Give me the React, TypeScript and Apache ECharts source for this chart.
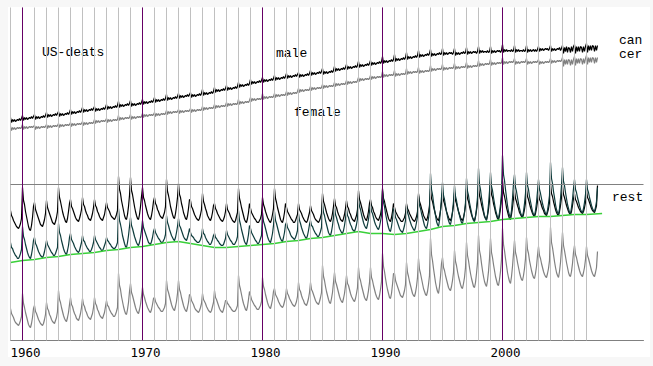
import React, { useEffect, useRef } from "react";
import * as echarts from "echarts";

// Monthly values (one row per year, Jan..Dec), first row = 1959. Units: arbitrary (no y labels in original).
const firstYear = 1959;
const decadeLabels = [1960, 1970, 1980, 1990, 2000];
const yearLines = [1959,1960,1961,1962,1963,1964,1965,1966,1967,1968,1969,1970,1971,1972,1973,1974,1975,1976,1977,1978,1979,1980,1981,1982,1983,1984,1985,1986,1987,1988,1989,1990,1991,1992,1993,1994,1995,1996,1997,1998,1999,2000,2001,2002,2003,2004,2005,2006,2007];
const restLevel = 156;

const cancerMale = [
[223,218,221,219,221,219,220,221,220,222,220,222],
[225,220,223,221,223,221,222,223,222,224,222,224],
[226,221,224,222,224,222,223,224,223,225,223,225],
[228,223,226,224,226,224,225,226,225,227,225,227],
[229,224,227,225,227,225,226,227,226,228,226,228],
[231,226,229,227,229,227,228,229,228,230,228,230],
[233,228,231,229,231,229,230,231,230,232,230,232],
[234,229,232,230,232,230,231,232,231,233,231,233],
[236,231,234,232,234,232,233,234,233,235,233,235],
[239,233,236,234,236,234,235,236,235,237,235,237],
[240,234,237,235,237,235,236,237,236,238,236,238],
[241,236,239,237,239,237,238,239,238,240,238,240],
[243,238,241,239,241,239,240,241,240,242,240,242],
[246,240,243,241,243,241,242,243,242,244,242,244],
[247,242,245,243,245,243,244,245,244,246,244,246],
[248,243,246,244,246,244,245,246,245,247,245,247],
[251,245,248,246,248,246,247,248,247,249,247,249],
[253,248,251,249,251,249,250,251,250,252,250,252],
[255,250,253,251,253,251,252,253,252,254,252,254],
[258,253,256,254,256,254,255,256,255,257,255,257],
[261,256,259,257,259,257,258,259,258,260,258,260],
[263,258,261,259,261,259,260,261,260,262,260,262],
[265,260,263,261,263,261,262,263,262,264,262,264],
[267,262,265,263,265,263,264,265,264,266,264,266],
[268,263,266,264,266,264,265,266,265,267,265,267],
[270,265,268,266,268,266,267,268,267,269,267,269],
[272,266,269,267,269,267,268,269,268,270,268,270],
[274,269,272,270,272,270,271,272,271,273,271,273],
[276,271,274,272,274,272,273,274,273,275,273,275],
[279,273,276,274,276,274,275,276,275,277,275,277],
[280,275,278,276,278,276,277,278,277,279,277,279],
[284,277,280,278,280,278,279,280,279,281,279,281],
[286,279,282,280,282,280,281,282,281,283,281,283],
[288,281,284,282,284,282,283,284,283,285,283,285],
[290,283,286,284,286,284,285,286,285,287,285,287],
[291,284,287,285,287,285,286,287,286,288,286,287],
[292,285,288,286,288,286,287,288,287,288,286,288],
[292,285,288,286,288,286,287,288,287,289,287,288],
[293,286,289,287,289,287,288,289,288,289,287,289],
[294,287,290,288,290,288,289,289,288,290,288,289],
[294,287,290,288,290,288,289,290,289,290,288,290],
[296,288,291,289,291,289,290,290,289,291,289,290],
[295,288,291,289,291,289,290,290,289,291,289,290],
[295,288,291,289,291,289,290,291,289,291,289,291],
[294,289,292,290,292,290,291,292,291,292,290,292],
[295,289,292,290,292,290,291,292,291,293,290,292],
[295,287,293,289,294,288,293,292,288,294,289,294],
[296,287,294,289,294,289,294,293,288,294,289,294],
[297,288,295,290,295,290,295,294,289,295,290,295],
];

const cancerFemale = [
[214,210,213,211,213,211,212,213,212,213,212,213],
[216,211,214,212,214,212,213,214,213,214,213,214],
[215,211,214,212,214,212,213,214,213,214,213,214],
[216,212,215,213,215,213,214,215,214,215,214,215],
[217,213,216,214,216,214,215,216,215,216,215,216],
[218,214,217,215,217,215,216,217,216,217,216,217],
[219,215,218,216,218,216,217,218,217,218,217,218],
[221,217,220,218,220,218,219,220,219,220,219,220],
[222,218,221,219,221,219,220,221,220,221,220,221],
[225,220,223,221,223,221,222,223,222,223,222,223],
[226,221,224,222,224,222,223,224,223,224,223,224],
[227,223,226,224,226,224,225,226,225,226,225,226],
[228,224,227,225,227,225,226,227,226,227,226,227],
[230,226,229,227,229,227,228,229,228,229,228,229],
[231,227,230,228,230,228,229,230,229,230,229,230],
[232,228,231,229,231,229,230,231,230,231,230,231],
[234,230,233,231,233,231,232,233,232,233,232,233],
[236,232,235,233,235,233,234,235,234,235,234,235],
[238,234,237,235,237,235,236,237,236,237,236,237],
[241,236,239,237,239,237,238,239,238,239,238,240],
[243,239,242,240,242,240,241,242,241,242,241,242],
[247,241,244,242,244,242,243,244,243,244,243,244],
[247,243,246,244,246,244,245,246,245,246,245,246],
[249,245,248,246,248,246,247,248,247,248,247,249],
[252,248,251,249,251,249,250,251,250,251,250,251],
[254,250,253,251,253,251,252,253,252,253,252,253],
[256,252,255,253,255,253,254,255,254,255,254,255],
[258,254,257,255,257,255,256,257,256,257,256,257],
[260,256,259,257,259,257,258,259,258,259,258,260],
[263,259,262,260,262,260,261,262,261,262,261,262],
[265,261,264,262,264,262,263,264,263,264,263,264],
[269,263,266,264,266,264,265,266,265,266,265,266],
[270,264,267,265,267,265,266,267,266,267,266,267],
[272,266,269,267,269,267,268,269,268,269,268,269],
[273,267,270,268,270,268,269,270,269,270,269,270],
[275,269,272,270,272,270,271,272,271,272,271,272],
[276,270,273,271,273,271,272,273,272,273,272,273],
[277,271,274,272,274,272,273,274,273,274,273,274],
[278,272,275,273,275,273,274,275,274,275,274,275],
[280,274,277,275,277,275,276,277,276,277,276,277],
[281,275,278,276,278,276,277,278,277,278,277,278],
[283,276,279,277,279,277,278,279,278,279,278,279],
[282,276,279,277,279,277,278,279,278,279,278,279],
[282,276,279,277,279,277,278,279,278,279,278,279],
[281,276,279,277,279,277,278,279,278,279,278,279],
[282,277,280,278,280,278,279,280,279,280,279,280],
[283,274,281,276,281,276,281,280,275,281,276,281],
[284,275,282,277,282,277,282,281,276,282,277,282],
[285,276,283,278,283,278,283,282,277,283,278,283],
];

const restBlack = [
[130,125,123,120,118,116,114,113,112,114,117,122],
[153,140,136,129,124,119,114,111,110,115,123,134],
[138,131,128,125,122,119,116,115,114,117,121,127],
[140,133,130,127,124,121,118,117,116,119,123,129],
[153,143,139,134,129,125,122,119,118,122,129,137],
[141,134,132,129,126,123,121,120,119,122,126,131],
[143,136,134,130,127,125,122,121,120,123,127,133],
[141,135,133,129,127,124,122,121,120,123,126,132],
[138,133,131,129,126,124,123,122,121,123,126,130],
[164,151,147,140,135,130,125,122,121,126,134,145],
[163,150,146,140,134,129,125,122,121,126,134,144],
[153,143,140,135,131,127,124,122,121,125,131,139],
[143,137,135,131,129,126,124,123,122,125,128,134],
[161,149,145,140,134,130,126,123,122,127,134,143],
[157,146,143,137,133,128,125,122,121,125,132,141],
[140,134,132,129,126,124,122,121,120,122,126,131],
[147,139,136,132,129,125,123,121,120,123,128,135],
[137,132,130,127,125,123,121,120,119,121,124,129],
[137,131,129,127,124,122,120,119,118,120,124,128],
[152,142,138,133,129,125,121,119,118,122,128,137],
[132,128,126,124,122,121,119,118,118,120,122,126],
[143,136,133,129,126,123,121,119,118,121,126,132],
[152,142,138,133,129,125,121,119,118,122,128,137],
[133,129,127,125,123,121,120,118,118,120,123,126],
[137,131,129,127,124,122,120,119,118,120,124,128],
[135,130,128,126,123,121,120,119,118,120,123,127],
[147,139,136,132,128,125,122,120,119,122,127,134],
[142,135,133,129,126,124,121,120,119,122,126,132],
[140,134,132,128,126,123,121,120,119,122,125,131],
[150,141,138,134,130,126,123,121,120,124,129,137],
[141,135,133,129,127,124,122,121,120,123,126,132],
[152,142,139,134,130,126,122,120,119,123,129,137],
[133,129,127,125,123,122,120,119,119,121,123,127],
[137,132,130,127,125,123,121,120,119,121,124,129],
[147,139,136,132,129,125,123,121,120,123,128,135],
[152,142,139,134,130,126,123,121,120,124,130,138],
[148,140,137,133,129,126,123,121,120,123,128,135],
[148,140,137,133,129,126,123,121,120,123,128,135],
[152,142,139,134,130,126,123,121,120,124,130,138],
[155,145,141,136,132,128,124,122,121,125,131,140],
[157,146,143,137,133,128,125,122,121,125,132,141],
[160,148,144,139,133,129,125,122,121,126,133,142],
[150,142,139,135,132,128,126,124,123,126,131,138],
[152,144,141,137,133,130,127,125,124,127,132,139],
[148,141,139,135,132,130,127,126,125,128,132,138],
[157,147,144,139,135,131,128,126,125,129,135,143],
[155,146,143,139,135,132,129,127,126,129,135,142],
[147,141,139,136,133,131,129,128,127,129,133,138],
[150,143,141,138,135,132,130,129,128,131,135,155],
];

const restTeal = [
[98,93,92,89,87,85,84,82,82,84,87,91],
[114,104,101,96,92,88,85,83,82,86,92,100],
[103,97,95,92,89,87,85,84,83,85,89,94],
[100,96,94,92,90,88,87,85,85,87,90,93],
[117,108,105,100,96,92,89,87,86,90,95,103],
[107,101,99,97,94,92,90,89,88,90,94,98],
[105,100,99,96,94,92,91,89,89,91,94,98],
[105,101,99,97,95,93,92,90,90,92,95,98],
[103,100,99,97,96,94,93,92,92,93,95,98],
[132,120,116,111,105,101,97,94,93,98,105,114],
[123,115,112,108,104,101,98,96,95,98,103,110],
[120,113,110,107,104,101,98,97,96,99,103,109],
[112,108,106,104,102,101,99,98,98,100,102,106],
[125,118,115,111,108,105,103,101,100,103,108,114],
[122,115,113,110,107,104,102,101,100,103,107,112],
[108,105,104,103,101,100,99,98,98,99,101,104],
[112,107,106,103,101,99,98,96,96,98,101,105],
[107,103,102,100,99,97,96,95,95,96,99,102],
[110,106,104,102,100,99,97,96,96,98,100,104],
[130,120,116,111,107,103,99,97,96,100,106,115],
[112,108,106,104,102,100,99,97,97,99,102,105],
[128,119,116,112,108,104,101,99,98,102,107,115],
[129,120,117,113,109,105,102,100,99,103,108,116],
[118,113,111,109,106,104,103,102,101,103,106,110],
[127,120,117,113,110,107,105,103,102,105,110,116],
[120,115,114,111,109,107,106,104,104,106,109,113],
[138,128,125,120,116,112,108,106,105,109,115,123],
[134,126,123,119,116,112,110,108,107,110,115,122],
[132,125,123,119,116,114,111,110,109,112,116,122],
[143,134,131,126,122,118,115,113,112,116,121,129],
[137,129,127,123,119,116,114,112,111,114,119,125],
[150,138,134,127,122,117,113,110,109,114,121,132],
[130,123,121,118,115,112,110,109,108,111,115,120],
[135,128,125,121,118,115,113,111,110,113,118,124],
[145,135,132,127,123,119,115,113,112,116,122,130],
[167,151,146,138,131,125,119,116,114,120,130,143],
[158,145,141,135,129,124,120,117,116,121,129,139],
[155,144,140,134,129,125,121,118,117,122,128,138],
[162,149,145,138,133,128,123,120,119,124,132,143],
[172,156,151,143,137,130,125,122,120,126,136,149],
[168,154,150,143,137,131,127,123,122,128,136,147],
[185,166,160,151,143,135,129,125,123,130,142,157],
[166,153,149,143,137,132,128,125,124,129,137,147],
[168,155,151,144,139,134,129,126,125,130,138,149],
[161,151,147,142,137,133,130,127,126,130,137,145],
[178,162,157,149,143,136,131,128,126,132,142,155],
[173,159,155,148,142,136,132,128,127,133,141,152],
[161,151,148,143,139,135,131,129,128,132,138,146],
[161,151,148,143,139,135,132,130,129,133,139,153],
];

const restGray = [
[32,27,25,23,20,18,17,16,15,17,20,24],
[47,37,33,28,24,20,16,14,13,17,23,32],
[35,29,27,24,21,19,17,16,15,17,21,26],
[38,32,30,26,24,21,19,18,17,20,23,29],
[50,41,38,33,29,25,22,20,19,23,28,36],
[43,36,34,30,27,25,22,21,20,23,27,33],
[42,36,34,30,28,25,23,22,21,24,27,33],
[43,37,35,31,29,26,24,23,22,25,28,34],
[40,35,34,31,29,27,26,24,24,26,29,33],
[67,55,51,44,39,34,30,27,26,31,38,49],
[57,48,45,41,37,33,30,28,27,31,36,44],
[53,46,43,39,36,33,31,29,28,31,36,42],
[43,39,37,35,33,32,30,29,29,31,33,37],
[60,51,48,44,40,36,33,31,30,34,39,47],
[60,51,48,43,39,35,32,30,29,33,38,46],
[45,40,38,36,33,31,30,29,28,30,33,37],
[47,41,39,37,34,32,30,29,28,30,34,38],
[50,43,41,38,35,32,30,29,28,31,35,40],
[40,37,36,34,33,31,30,29,29,30,32,35],
[65,55,51,46,41,37,34,31,30,34,41,49],
[45,41,39,37,35,34,32,31,31,33,35,39],
[63,54,51,46,42,38,35,33,32,36,41,49],
[52,46,44,42,39,37,35,34,33,35,39,43],
[52,47,45,42,40,38,36,35,34,36,39,44],
[58,51,49,45,42,40,37,36,35,38,42,48],
[58,51,49,46,43,40,38,37,36,39,43,48],
[75,64,60,54,49,45,41,38,37,42,48,58],
[68,59,56,52,48,44,41,39,38,42,47,55],
[65,57,55,51,47,44,42,40,39,42,47,53],
[73,63,60,55,51,47,43,41,40,44,50,58],
[73,63,60,55,51,47,44,42,41,45,51,59],
[87,74,69,62,56,51,47,43,42,47,56,67],
[67,60,57,54,51,48,45,44,43,46,50,56],
[78,68,64,59,55,51,47,45,44,48,54,63],
[82,71,67,62,57,52,49,46,45,49,56,65],
[102,86,80,72,65,58,53,49,47,54,64,77],
[83,73,70,65,61,57,53,51,50,54,60,68],
[90,79,75,69,64,60,56,53,52,57,63,73],
[98,85,80,73,67,62,58,54,53,58,67,78],
[105,90,85,77,70,64,59,56,54,60,69,82],
[102,88,83,76,70,64,60,56,55,61,69,81],
[112,96,90,82,75,68,63,59,57,64,74,87],
[100,88,84,78,73,68,64,61,60,65,72,82],
[103,91,87,80,75,70,66,63,62,67,74,85],
[94,85,82,77,73,69,66,64,63,67,72,80],
[113,98,93,86,79,73,68,65,63,69,78,91],
[108,95,90,84,78,73,68,65,64,69,77,88],
[95,86,83,78,74,70,67,65,64,68,73,81],
[94,85,82,78,74,70,67,65,64,68,73,89],
];

const trendYears = [1959,1960,1961,1962,1963,1964,1965,1966,1967,1968,1969,1970,1971,1972,1973,1974,1975,1976,1977,1978,1979,1980,1981,1982,1983,1984,1985,1986,1987,1988,1989,1990,1991,1992,1993,1994,1995,1996,1997,1998,1999,2000,2001,2002,2003,2004,2005,2006,2007,2008.3];
const trendValues = [78,80,81,83,84,86,87,88,90,91,93,94,96,98,99,97,95,93,93,94,95,96,97,99,100,102,103,105,107,109,107,107,106,107,109,111,114,115,117,118,119,121,122,123,124,124,125,126,126,127];

function monthly(rows: number[][]): number[][] {
  const out: number[][] = [];
  rows.forEach((row, i) => {
    row.forEach((v, m) => {
      out.push([firstYear + i + m / 12, v]);
    });
  });
  return out;
}

const labelFont = "'Liberation Mono', 'Courier New', monospace";

export default function App() {
  const ref = useRef<HTMLDivElement>(null);
  useEffect(() => {
    if (!ref.current) return;
    const chart = echarts.init(ref.current, null, { renderer: "svg" });
    const lineBase = (name: string, data: number[][], color: string, z = 3, width = 1.2) => ({
      name,
      type: "line",
      data,
      showSymbol: false,
      symbol: "none",
      z,
      lineStyle: { color, width },
      itemStyle: { color },
      silent: true,
    });
    const txt = (text: string, left: number, top: number) => ({
      type: "text",
      left,
      top,
      style: { text, fontFamily: labelFont, fontSize: 13, lineHeight: 13, fill: "#000" },
    });
    chart.setOption({
      animation: false,
      backgroundColor: "transparent",
      grid: { left: 10.5, right: 9.5, top: 7.5, bottom: 25.5 },
      xAxis: {
        type: "value",
        min: 1959,
        max: 2011.75,
        interval: 1,
        axisLine: { show: true, lineStyle: { color: "#808080", width: 1 } },
        axisTick: { show: false },
        splitLine: { show: false },
        axisLabel: {
          margin: 5,
          fontFamily: "'DejaVu Sans Mono', monospace",
          fontSize: 12.5,
          color: "#000",
          padding: [0, 0, 0, 6],
          showMinLabel: true,
          showMaxLabel: false,
          formatter: (v: number) => {
            const y = Math.round(v);
            return decadeLabels.indexOf(y) >= 0 ? String(y) : "";
          },
        },
      },
      yAxis: {
        type: "value",
        min: 0,
        max: 333,
        show: false,
      },
      series: [
        {
          type: "line",
          data: [[1959, -50]],
          symbol: "none",
          lineStyle: { opacity: 0 },
          z: 1,
          silent: true,
          markLine: {
            silent: true,
            symbol: "none",
            label: { show: false },
            lineStyle: { color: "#c0c0c0", width: 1, type: "solid" },
            data: [
              ...yearLines.map((y) => ({ xAxis: y })),
              { yAxis: restLevel, lineStyle: { color: "#808080", width: 1, type: "solid" } },
            ],
          },
        },
        {
          type: "line",
          data: [[1959, -50]],
          symbol: "none",
          lineStyle: { opacity: 0 },
          z: 2,
          silent: true,
          markLine: {
            silent: true,
            symbol: "none",
            label: { show: false },
            lineStyle: { color: "#660066", width: 1, type: "solid" },
            data: decadeLabels.map((y) => ({ xAxis: y })),
          },
        },
        lineBase("rest-3", monthly(restGray), "#808080"),
        lineBase("rest-1", monthly(restBlack), "#000000"),
        lineBase("rest-2", monthly(restTeal), "#0d3b3b"),
        lineBase("trend", trendYears.map((y, i) => [y, trendValues[i]]), "#3ad03a", 4, 1.5),
        lineBase("cancer-female", monthly(cancerFemale), "#808080"),
        lineBase("cancer-male", monthly(cancerMale), "#000000"),
      ],
      graphic: [
        txt("US-deats", 42, 46),
        txt("male", 276, 47),
        txt("female", 294, 106),
        txt("can", 619, 34),
        txt("cer", 619, 47.5),
        txt("rest", 612, 191),
      ],
    });
    return () => chart.dispose();
  }, []);

  return (
    <div style={{ position: "fixed", left: 0, top: 0, width: 653, height: 366, background: "#f7f7f7" }}>
      <div style={{ position: "absolute", left: 8, top: 7, width: 642, height: 350, background: "#ffffff" }} />
      <div ref={ref} style={{ position: "absolute", left: 0, top: 0, width: 653, height: 366 }} />
    </div>
  );
}
